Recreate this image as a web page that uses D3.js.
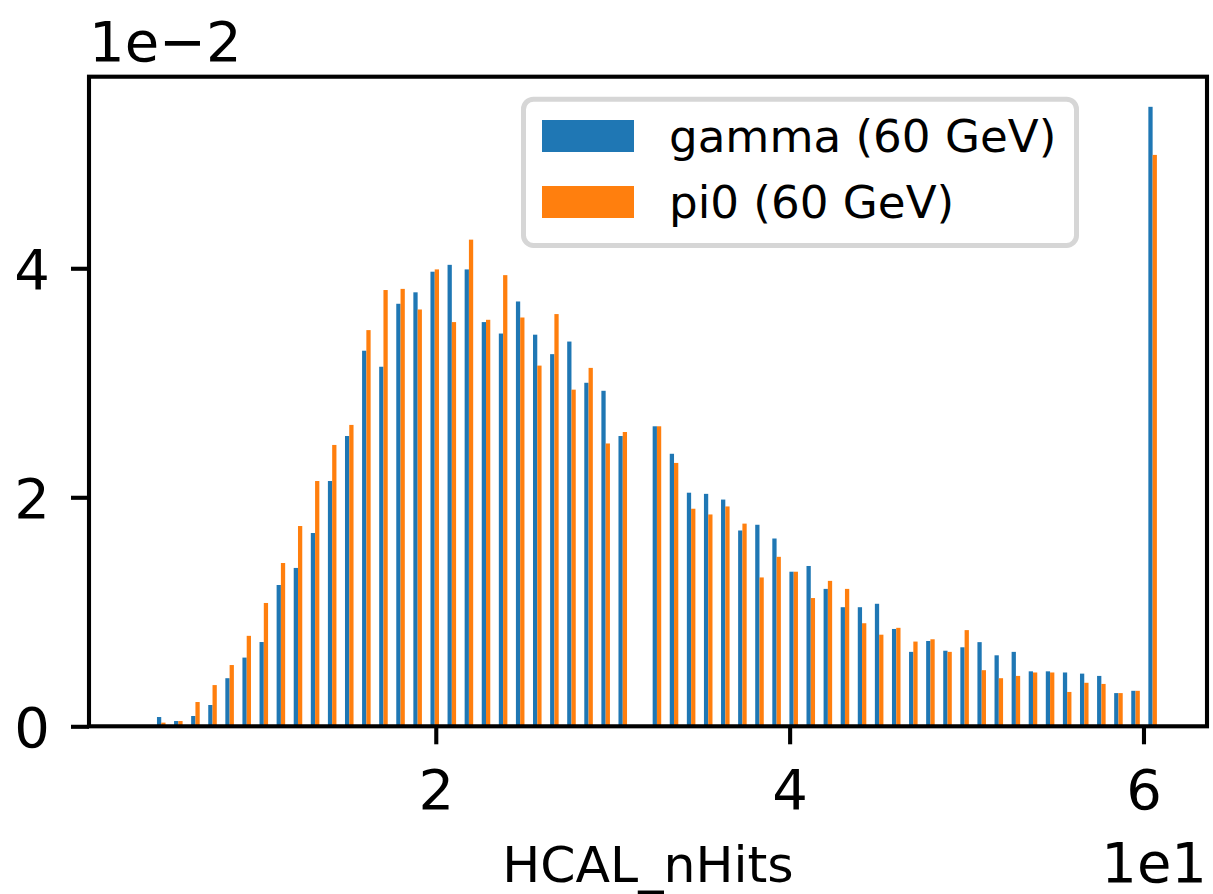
<!DOCTYPE html>
<html>
<head>
<meta charset="utf-8">
<script src="https://cdn.jsdelivr.net/npm/d3@7"></script>
<style>
  body { margin: 0; background: #fff; }
  text { font-family: "DejaVu Sans", sans-serif; fill: #000; }
</style>
</head>
<body>
<div id="chart"></div>
<script>
// histogram of HCAL_nHits, 59 bins over [4, 61], density (units of 1)
var hitRange = [4, 61];
var nBins = 59;

var seriesNames = ["gamma (60 GeV)", "pi0 (60 GeV)"];
var seriesColors = ["#1f77b4", "#ff7f0e"];

var gamma = [0.00081, 0.00046, 0.00090, 0.00186, 0.0042, 0.0060, 0.00736, 0.01234, 0.01383, 0.01688,
  0.02142, 0.02535, 0.0328, 0.0314, 0.0369, 0.0379, 0.0397, 0.0403, 0.0399, 0.0353,
  0.0343, 0.0371, 0.0342, 0.0325, 0.0336, 0.0300, 0.0293, 0.02535, 0, 0.0262,
  0.0238, 0.0204, 0.0203, 0.0198, 0.0171, 0.0176, 0.0164, 0.0135, 0.0140, 0.0120,
  0.0104, 0.0104, 0.0107, 0.0085, 0.0065, 0.00745, 0.0066, 0.0069, 0.00735, 0.0062,
  0.0065, 0.0048, 0.0048, 0.0047, 0.0046, 0.0044, 0.0029, 0.0031, 0.0541];

var pi0 = [0.00032, 0.00046, 0.00212, 0.0036, 0.00535, 0.0079, 0.01077, 0.01426, 0.01749, 0.02142,
  0.02457, 0.02632, 0.0346, 0.0381, 0.0382, 0.0364, 0.0399, 0.0353, 0.0425, 0.0355,
  0.0394, 0.0357, 0.0315, 0.0360, 0.0294, 0.0313, 0.0247, 0.0257, 0, 0.0262,
  0.0230, 0.0190, 0.0185, 0.0192, 0.0177, 0.0130, 0.0148, 0.0135, 0.0112, 0.0127,
  0.0120, 0.0090, 0.0080, 0.0086, 0.0074, 0.0076, 0.0065, 0.0084, 0.0049, 0.0042,
  0.0044, 0.0047, 0.0047, 0.0030, 0.0038, 0.0037, 0.0029, 0.0031, 0.0499];

var xTicks = [20, 40, 60];
var yTicks = [0, 0.02, 0.04];

var W = 1213, H = 894;
var margin = { top: 76.7, right: 6, bottom: 167.7, left: 89 };
var width = W - margin.left - margin.right;
var height = H - margin.top - margin.bottom;

var svg = d3.select("#chart").append("svg")
  .attr("width", W)
  .attr("height", H);

var g = svg.append("g")
  .attr("transform", "translate(" + margin.left + "," + margin.top + ")");

var x = d3.scaleLinear().domain([0.40, 63.59]).range([0, width]);
var y = d3.scaleLinear().domain([0, 0.05673]).range([height, 0]);

// bin edges
var binW = (hitRange[1] - hitRange[0]) / nBins;
var bins = d3.range(nBins).map(function(i) {
  return { x0: hitRange[0] + i * binW, x1: hitRange[0] + (i + 1) * binW, g: gamma[i], p: pi0[i] };
});

// bars take half of each bin (rwidth 0.5), split between the two series
[gamma, pi0].forEach(function(vals, s) {
  g.append("g").selectAll("rect")
    .data(bins.filter(function(d) { return (s == 0 ? d.g : d.p) > 0; }))
    .enter().append("rect")
      .attr("x", function(d) {
        var c = (d.x0 + d.x1) / 2;
        return x(c - binW * 0.25 + s * binW * 0.25);
      })
      .attr("width", x(binW * 0.25) - x(0))
      .attr("y", function(d) { return y(s == 0 ? d.g : d.p); })
      .attr("height", function(d) { return height - y(s == 0 ? d.g : d.p); })
      .style("fill", seriesColors[s]);
});

// x axis
var xAxis = g.append("g")
  .attr("transform", "translate(0," + height + ")")
  .call(d3.axisBottom(x).tickValues(xTicks).tickSize(18).tickFormat(function(d) { return d / 10; }));
xAxis.select(".domain").remove();
xAxis.selectAll("line").attr("stroke", "#000").attr("stroke-width", 4.1);
xAxis.selectAll("text")
  .attr("y", 82.7).attr("dy", null)
  .style("font-size", "56px").style("font-family", "DejaVu Sans");

// y axis
var yAxis = g.append("g")
  .call(d3.axisLeft(y).tickValues(yTicks).tickSize(18).tickFormat(function(d) { return Math.round(d * 100); }));
yAxis.select(".domain").remove();
yAxis.selectAll("line").attr("stroke", "#000").attr("stroke-width", 4.1);
yAxis.selectAll("text")
  .attr("x", -39).attr("dy", "0.3645em")
  .style("font-size", "56px").style("font-family", "DejaVu Sans");

// frame
g.append("rect")
  .attr("x", 0).attr("y", 0)
  .attr("width", width).attr("height", height)
  .attr("fill", "none").attr("stroke", "#000").attr("stroke-width", 4.1);

// offset texts and label
svg.append("text")
  .attr("x", margin.left).attr("y", 60.5)
  .style("font-size", "56px")
  .text("1e\u22122");

svg.append("text")
  .attr("x", margin.left + width).attr("y", 881.7)
  .attr("text-anchor", "end")
  .style("font-size", "56px")
  .text("1e1");

svg.append("text")
  .attr("x", margin.left + width / 2).attr("y", 881.7)
  .attr("text-anchor", "middle")
  .style("font-size", "50.5px")
  .text("HCAL_nHits");

// legend
var legend = svg.append("g");
legend.append("rect")
  .attr("x", 523.5).attr("y", 99.2)
  .attr("width", 553).attr("height", 146.3)
  .attr("rx", 10).attr("ry", 10)
  .attr("fill", "rgba(255,255,255,0.8)")
  .attr("stroke", "#d6d6d6").attr("stroke-width", 5);

seriesNames.forEach(function(name, i) {
  legend.append("rect")
    .attr("x", 542).attr("y", 120 + i * 66)
    .attr("width", 92).attr("height", 32)
    .attr("fill", seriesColors[i]);
  legend.append("text")
    .attr("x", 669).attr("y", 152 + i * 66)
    .style("font-size", "45.2px")
    .text(name);
});
</script>
</body>
</html>
